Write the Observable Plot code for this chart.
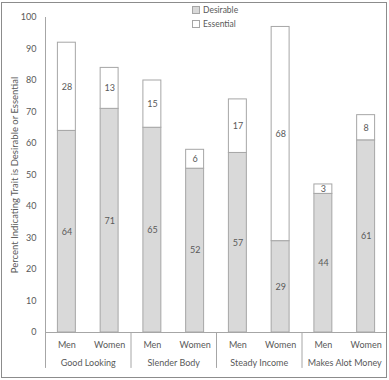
<!DOCTYPE html>
<html>
<head>
<meta charset="utf-8">
<script src="https://cdn.jsdelivr.net/npm/d3@7"></script>
<script src="https://cdn.jsdelivr.net/npm/@observablehq/plot@0.6"></script>
<style>
  html, body { margin: 0; padding: 0; background: #fff; }
  #wrap { position: relative; width: 389px; height: 380px; font-family: Lato, "Open Sans", sans-serif; }
  #border { position: absolute; left: 1px; top: 2px; width: 386px; height: 376px; box-sizing: border-box; border: 1px solid #8c8c8c; pointer-events: none; }
  #chart { position: absolute; left: 0; top: 0; }
  #legend { position: absolute; left: 192px; top: 3px; font-size: 8.5px; color: #595959; line-height: 14px; }
  #legend .sw { display: inline-block; width: 6px; height: 6px; border: 1px solid #a6a6a6; margin-right: 3px; vertical-align: -1px; }
</style>
</head>
<body>
<div id="wrap">
  <div id="chart"></div>
  <div id="legend"></div>
  <div id="border"></div>
</div>
<script>
const categories = ["Good Looking", "Slender Body", "Steady Income", "Makes Alot Money"];
const sexes = ["Men", "Women"];
const desirable = [64, 71, 65, 52, 57, 29, 44, 61];
const essential = [28, 13, 15, 6, 17, 68, 3, 8];
const yTicks = [0, 10, 20, 30, 40, 50, 60, 70, 80, 90, 100];
const seriesNames = ["Desirable", "Essential"];
const seriesColors = ["#d9d9d9", "#ffffff"];
const yLabel = "Percent Indicating Trait is Desirable or Essential";

const halfBar = 0.105;
const rows = [];
desirable.forEach((d, i) => {
  const g = Math.floor(i / 2);
  const s = i % 2;
  const pos = g + (s ? 0.75 : 0.25);
  rows.push({pos, sex: sexes[s], series: seriesNames[0], lo: 0, hi: d, value: d});
  rows.push({pos, sex: sexes[s], series: seriesNames[1], lo: d, hi: d + essential[i], value: essential[i]});
});
const bars = rows.filter(r => r.series === seriesNames[0]);
const below = -11.4;
const gray = "#595959";
const line = "#a6a6a6";

const plot = Plot.plot({
  width: 389,
  height: 380,
  marginTop: 17,
  marginBottom: 48,
  marginLeft: 45,
  marginRight: 2,
  x: {domain: [0, 4], axis: null},
  y: {domain: [0, 100], axis: null},
  color: {domain: seriesNames, range: seriesColors},
  style: {fontFamily: "Lato, 'Open Sans', sans-serif", fontSize: "9px", color: gray, background: "transparent"},
  marks: [
    Plot.axisY(yTicks, {tickSize: 0, tickPadding: 9, label: null, fontSize: 9, fill: gray}),
    Plot.text([yLabel], {frameAnchor: "left", textAnchor: "middle", rotate: -90, dx: -31, fontSize: 9.5, fill: gray}),
    Plot.rect(rows, {x1: r => r.pos - halfBar, x2: r => r.pos + halfBar, y1: "lo", y2: "hi", fill: "series", stroke: line, strokeWidth: 1}),
    Plot.text(rows, {x: "pos", y: r => (r.lo + r.hi) / 2, text: r => String(r.value), fontSize: 9, fill: gray}),
    Plot.ruleY([0], {x1: 0, x2: 4, stroke: line}),
    Plot.ruleX([0], {y1: below, y2: 100, stroke: line}),
    Plot.ruleX([1, 2, 3], {y1: below, y2: 0, stroke: line}),
    Plot.text(bars, {x: "pos", y: 0, text: "sex", dy: 13, fontSize: 9, fill: gray}),
    Plot.text(categories, {x: (d, i) => i + 0.5, y: 0, text: d => d, dy: 31, fontSize: 9, fill: gray})
  ]
});
document.getElementById("chart").append(plot);

const legend = document.getElementById("legend");
seriesNames.forEach((name, i) => {
  const row = document.createElement("div");
  const sw = document.createElement("span");
  sw.className = "sw";
  sw.style.background = seriesColors[i];
  row.append(sw, document.createTextNode(name));
  legend.append(row);
});
</script>
</body>
</html>
